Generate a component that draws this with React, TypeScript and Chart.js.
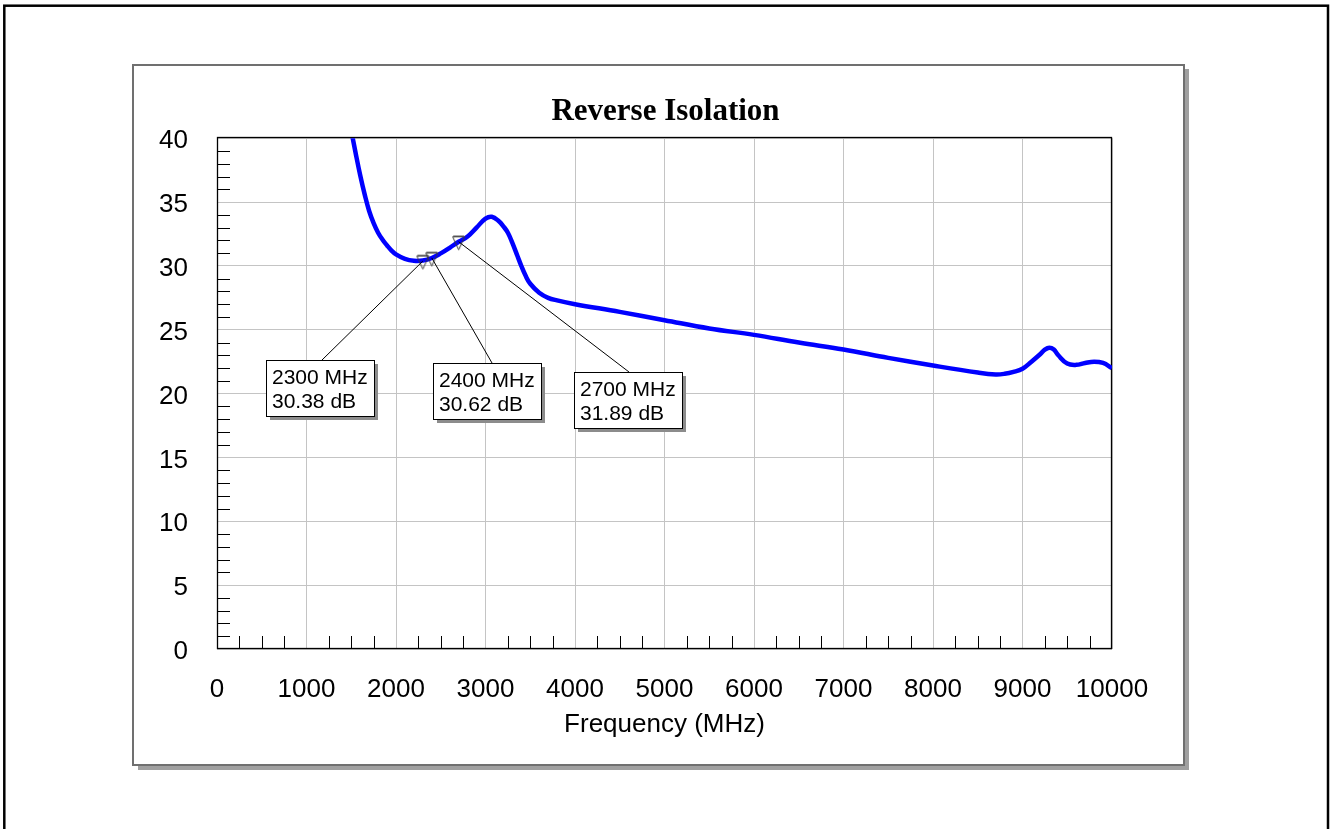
import React, { useEffect, useRef } from "react";
import { Chart, registerables } from "chart.js";

Chart.register(...registerables);

// ---- data ----
const freqMHz = [
  1450, 1500, 1550, 1600, 1650, 1700, 1750, 1800, 1850, 1900, 1950, 2000, 2100, 2200, 2300, 2400,
  2500, 2600, 2700, 2800, 2900, 3000, 3070, 3150, 3200, 3250, 3300, 3350, 3400, 3450, 3500, 3600,
  3700, 3800, 4000, 4500, 5000, 5500, 6000, 6500, 7000, 7500, 8000, 8500, 8700, 8800, 8900, 9000,
  9100, 9200, 9250, 9300, 9350, 9400, 9500, 9600, 9700, 9800, 9900, 10000,
];
const isolationDb = [
  42.4, 40.6, 38.8, 37.1, 35.6, 34.3, 33.35, 32.6, 32.05, 31.6, 31.2, 30.9, 30.55, 30.4, 30.42, 30.62,
  30.98, 31.42, 31.89, 32.3, 33.0, 33.7, 33.85, 33.5, 33.1, 32.6, 31.8, 30.9, 30.0, 29.2, 28.6, 27.9,
  27.5, 27.3, 27.0, 26.4, 25.75, 25.1, 24.6, 24.0, 23.45, 22.8, 22.2, 21.65, 21.5, 21.55, 21.7, 21.95,
  22.5, 23.1, 23.45, 23.6, 23.45, 23.0, 22.35, 22.25, 22.4, 22.5, 22.4, 22.0,
];
const markerFreq = [2300, 2400, 2700];
const markerDb = [30.38, 30.62, 31.89];

const xMin = 0;
const xMax = 10000;
const xStep = 1000;
const xMinorStep = 250;
const yMin = 0;
const yMax = 40;
const yStep = 5;
const yMinorStep = 1;

const titleText = "Reverse Isolation";
const xTitleText = "Frequency (MHz)";

// label box placement (pixel offsets from marker) - style only
const labelOffsets = [
  [-157, 99],
  [1, 105],
  [115, 130],
];
const leaderAnchor = [56, 59, 55];

const SANS = "'Liberation Sans', Arial, Helvetica, sans-serif";
const SERIF = "'Liberation Serif', 'Times New Roman', serif";

export default function App() {
  const ref = useRef<HTMLCanvasElement>(null);

  useEffect(() => {
    const canvas = ref.current!;
    // marker glyph: hollow inverted triangle
    const tri = document.createElement("canvas");
    tri.width = 15;
    tri.height = 19;
    const tctx = tri.getContext("2d")!;
    tctx.strokeStyle = "#3a3a3a";
    tctx.lineWidth = 1;
    tctx.beginPath();
    tctx.moveTo(1.5, 4.5);
    tctx.lineTo(13.5, 4.5);
    tctx.lineTo(7.5, 17.5);
    tctx.closePath();
    tctx.stroke();
    tctx.strokeStyle = "#8a8a8a";
    tctx.beginPath();
    tctx.moveTo(2, 3.5);
    tctx.lineTo(13, 3.5);
    tctx.stroke();

    const background = {
      id: "background",
      beforeDraw(chart: any) {
        const ctx = chart.ctx;
        ctx.save();
        ctx.fillStyle = "#ffffff";
        ctx.fillRect(0, 0, chart.width, chart.height);
        // outer frame
        ctx.strokeStyle = "#000000";
        ctx.lineWidth = 2.5;
        ctx.strokeRect(4.3, 5.7, 1323.7, 900);
        // panel shadow
        ctx.fillStyle = "#a0a0a0";
        ctx.fillRect(138, 69, 1051, 701);
        // panel
        ctx.fillStyle = "#ffffff";
        ctx.fillRect(133, 65, 1051, 700);
        ctx.strokeStyle = "#707070";
        ctx.lineWidth = 2;
        ctx.strokeRect(133, 65, 1051, 700);
        ctx.restore();
      },
    };

    const frame = {
      id: "frame",
      beforeDatasetsDraw(chart: any) {
        const ctx = chart.ctx;
        const { left, top, right, bottom } = chart.chartArea;
        const xs = chart.scales.x;
        const ys = chart.scales.y;
        ctx.save();
        ctx.strokeStyle = "#000000";
        ctx.lineWidth = 1;
        ctx.beginPath();
        for (let v = yMin + yMinorStep; v < yMax; v += yMinorStep) {
          if (v % yStep === 0) continue;
          const py = Math.round(ys.getPixelForValue(v)) + 0.5;
          ctx.moveTo(left, py);
          ctx.lineTo(left + 13, py);
        }
        for (let f = xMin + xMinorStep; f < xMax; f += xMinorStep) {
          if (f % xStep === 0) continue;
          const px = Math.round(xs.getPixelForValue(f)) + 0.5;
          ctx.moveTo(px, bottom);
          ctx.lineTo(px, bottom - 13);
        }
        ctx.stroke();
        ctx.lineWidth = 1.3;
        ctx.strokeRect(Math.round(left) + 0.5, Math.round(top) - 0.5, Math.round(right - left) - 1, Math.round(bottom - top));
        ctx.restore();
      },
    };

    const labels = {
      id: "markerLabels",
      afterDatasetsDraw(chart: any) {
        const ctx = chart.ctx;
        const xs = chart.scales.x;
        const ys = chart.scales.y;
        ctx.save();
        ctx.font = `21px ${SANS}`;
        markerFreq.forEach((f, i) => {
          const px = xs.getPixelForValue(f);
          const py = ys.getPixelForValue(markerDb[i]);
          const bx = Math.round(px + labelOffsets[i][0]);
          const by = Math.round(py + labelOffsets[i][1]);
          const l1 = `${f} MHz`;
          const l2 = `${markerDb[i].toFixed(2)} dB`;
          const w = Math.ceil(Math.max(ctx.measureText(l1).width, ctx.measureText(l2).width)) + 12;
          const h = 56;
          ctx.strokeStyle = "#000000";
          ctx.lineWidth = 1;
          ctx.beginPath();
          ctx.moveTo(px, py);
          ctx.lineTo(bx + leaderAnchor[i], by);
          ctx.stroke();
          ctx.fillStyle = "#8c8c8c";
          ctx.fillRect(bx + 4, by + 4, w, h);
          ctx.fillStyle = "#ffffff";
          ctx.fillRect(bx, by, w, h);
          ctx.strokeStyle = "#000000";
          ctx.strokeRect(bx + 0.5, by + 0.5, w, h);
          ctx.fillStyle = "#000000";
          ctx.textBaseline = "alphabetic";
          ctx.textAlign = "left";
          ctx.fillText(l1, bx + 6, by + 24);
          ctx.fillText(l2, bx + 6, by + 47.5);
        });
        ctx.restore();
      },
    };

    const chart = new Chart(canvas, {
      type: "line",
      data: {
        datasets: [
          {
            type: "scatter",
            label: "markers",
            data: markerFreq.map((f, i) => ({ x: f, y: markerDb[i] })),
            pointStyle: tri as any,
            pointRadius: 7,
            showLine: false,
            xAxisID: "x",
            yAxisID: "y",
            clip: false as any,
          },
          {
            label: "Reverse Isolation",
            data: freqMHz.map((f, i) => ({ x: f, y: isolationDb[i] })),
            borderColor: "#0000ff",
            backgroundColor: "#0000ff",
            borderWidth: 4.5,
            pointRadius: 0,
            tension: 0.4,
            fill: false,
            xAxisID: "x",
            yAxisID: "y",
            clip: 0 as any,
          },
        ],
      } as any,
      options: {
        responsive: false,
        animation: false,
        events: [],
        layout: { padding: 0 },
        plugins: {
          legend: { display: false },
          tooltip: { enabled: false },
          title: {
            display: true,
            text: titleText,
            color: "#000000",
            font: { family: SERIF, size: 31, weight: "bold", lineHeight: 1.2 },
            padding: { top: 93, bottom: 8 },
          },
        },
        scales: {
          x: {
            type: "linear",
            position: "bottom",
            min: xMin,
            max: xMax,
            ticks: {
              stepSize: xStep,
              color: "#000000",
              font: { family: SANS, size: 26 },
              padding: 25,
              maxRotation: 0,
              autoSkip: false,
              callback: (v: any) => String(v),
            },
            grid: { color: "#c4c4c4", lineWidth: 1, drawTicks: false },
            border: { display: false },
            title: {
              display: true,
              text: xTitleText,
              color: "#000000",
              font: { family: SANS, size: 26 },
              padding: { top: 0, bottom: 89 },
            },
            afterFit: (s: any) => {
              s.height = 180;
            },
          },
          y: {
            type: "linear",
            position: "left",
            min: yMin,
            max: yMax,
            ticks: {
              stepSize: yStep,
              color: "#000000",
              font: { family: SANS, size: 26 },
              padding: 29,
              labelOffset: 3,
              callback: (v: any) => String(v),
            },
            grid: { color: "#c4c4c4", lineWidth: 1, drawTicks: false },
            border: { display: false },
            afterFit: (s: any) => {
              s.width = 217;
            },
          },
          y2: {
            type: "linear",
            position: "right",
            min: yMin,
            max: yMax,
            ticks: { display: false },
            grid: { display: false, drawTicks: false },
            border: { display: false },
            afterFit: (s: any) => {
              s.width = 219;
            },
          },
        },
      } as any,
      plugins: [background, frame, labels],
    });
    return () => chart.destroy();
  }, []);

  return (
    <div style={{ position: "absolute", left: 0, top: 0, width: 1331, height: 829 }}>
      <canvas ref={ref} width={1331} height={829} style={{ display: "block" }} />
    </div>
  );
}
